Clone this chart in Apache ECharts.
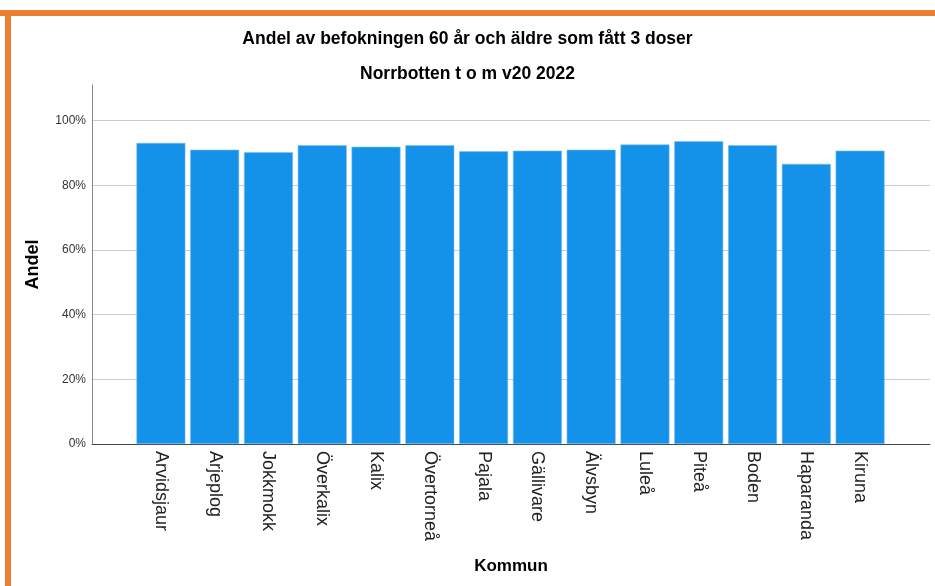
<!DOCTYPE html>
<html>
<head>
<meta charset="utf-8">
<script src="https://cdn.jsdelivr.net/npm/echarts@6/dist/echarts.min.js"></script>
<style>
  html, body { margin: 0; padding: 0; background: #fff; }
  #chart { width: 935px; height: 586px; }
</style>
</head>
<body>
<div id="chart"></div>
<script>
// Kommuner i Norrbotten, andel 60+ med 3 doser (procent)
const kommuner = ['Arvidsjaur', 'Arjeplog', 'Jokkmokk', 'Överkalix', 'Kalix', 'Övertorneå', 'Pajala',
  'Gällivare', 'Älvsbyn', 'Luleå', 'Piteå', 'Boden', 'Haparanda', 'Kiruna']
const andel = [93.1, 91.0, 90.2, 92.4, 91.9, 92.4, 90.5, 90.7, 91.0, 92.6, 93.6, 92.4, 86.6, 90.7]

const titleText = 'Andel av befokningen 60 år och äldre som fått 3 doser'
const subText = 'Norrbotten t o m v20 2022'

const yMax = 111
const font = '"Liberation Sans", Arial, sans-serif'
const orange = '#ED7D31'

const chart = echarts.init(document.getElementById('chart'))

const option = {
  backgroundColor: '#fff',
  textStyle: { fontFamily: font },
  title: [
    {
      text: titleText, left: 'center', top: 25, padding: [5, 5, 5, 24],
      textStyle: { fontSize: 17.5, fontWeight: 'bold', color: '#000', fontFamily: font }
    },
    {
      text: subText, left: 'center', top: 60, padding: [5, 5, 5, 24],
      textStyle: { fontSize: 17.5, fontWeight: 'bold', color: '#000', fontFamily: font }
    }
  ],
  graphic: [
    { type: 'rect', shape: { x: 0, y: 10, width: 935, height: 6 }, style: { fill: orange } },
    { type: 'rect', shape: { x: 5, y: 10, width: 6, height: 576 }, style: { fill: orange } }
  ],
  grid: [
    // frame: axis lines and gridlines
    { left: 92, right: 5, top: 85, bottom: 142 },
    // bars
    { left: 134, right: 48, top: 85, bottom: 142 }
  ],
  xAxis: [
    {
      type: 'value', gridIndex: 0, min: 0, max: 1,
      axisLine: { show: true, lineStyle: { color: '#444', width: 1 } },
      axisTick: { show: false }, axisLabel: { show: false }, splitLine: { show: false },
      name: 'Kommun', nameLocation: 'middle', nameGap: 114,
      nameTextStyle: { fontSize: 17, fontWeight: 'bold', color: '#000' }
    },
    {
      type: 'category', gridIndex: 1, data: kommuner,
      axisLine: { show: false }, axisTick: { show: false },
      axisLabel: { rotate: -90, margin: 7, fontSize: 18, color: '#222', interval: 0 }
    }
  ],
  yAxis: [
    {
      type: 'value', gridIndex: 0, min: 0, max: yMax, interval: 20,
      axisLine: { show: true, lineStyle: { color: '#888' } },
      axisTick: { show: false },
      axisLabel: { formatter: '{value}%', fontSize: 12, color: '#333', margin: 6, showMaxLabel: false },
      splitLine: { show: true, showMaxLine: false, lineStyle: { color: '#ccc' } },
      name: 'Andel', nameLocation: 'middle', nameGap: 50,
      nameTextStyle: { fontSize: 18, fontWeight: 'bold', color: '#000' }
    },
    {
      type: 'value', gridIndex: 1, min: 0, max: yMax, show: false
    }
  ],
  series: [{
    type: 'bar',
    xAxisIndex: 1, yAxisIndex: 1,
    data: andel,
    barCategoryGap: '9%',
    itemStyle: { color: '#1491e8', borderColor: '#7cc0f2', borderWidth: 0.6 }
  }]
}

chart.setOption(option)
</script>
</body>
</html>
